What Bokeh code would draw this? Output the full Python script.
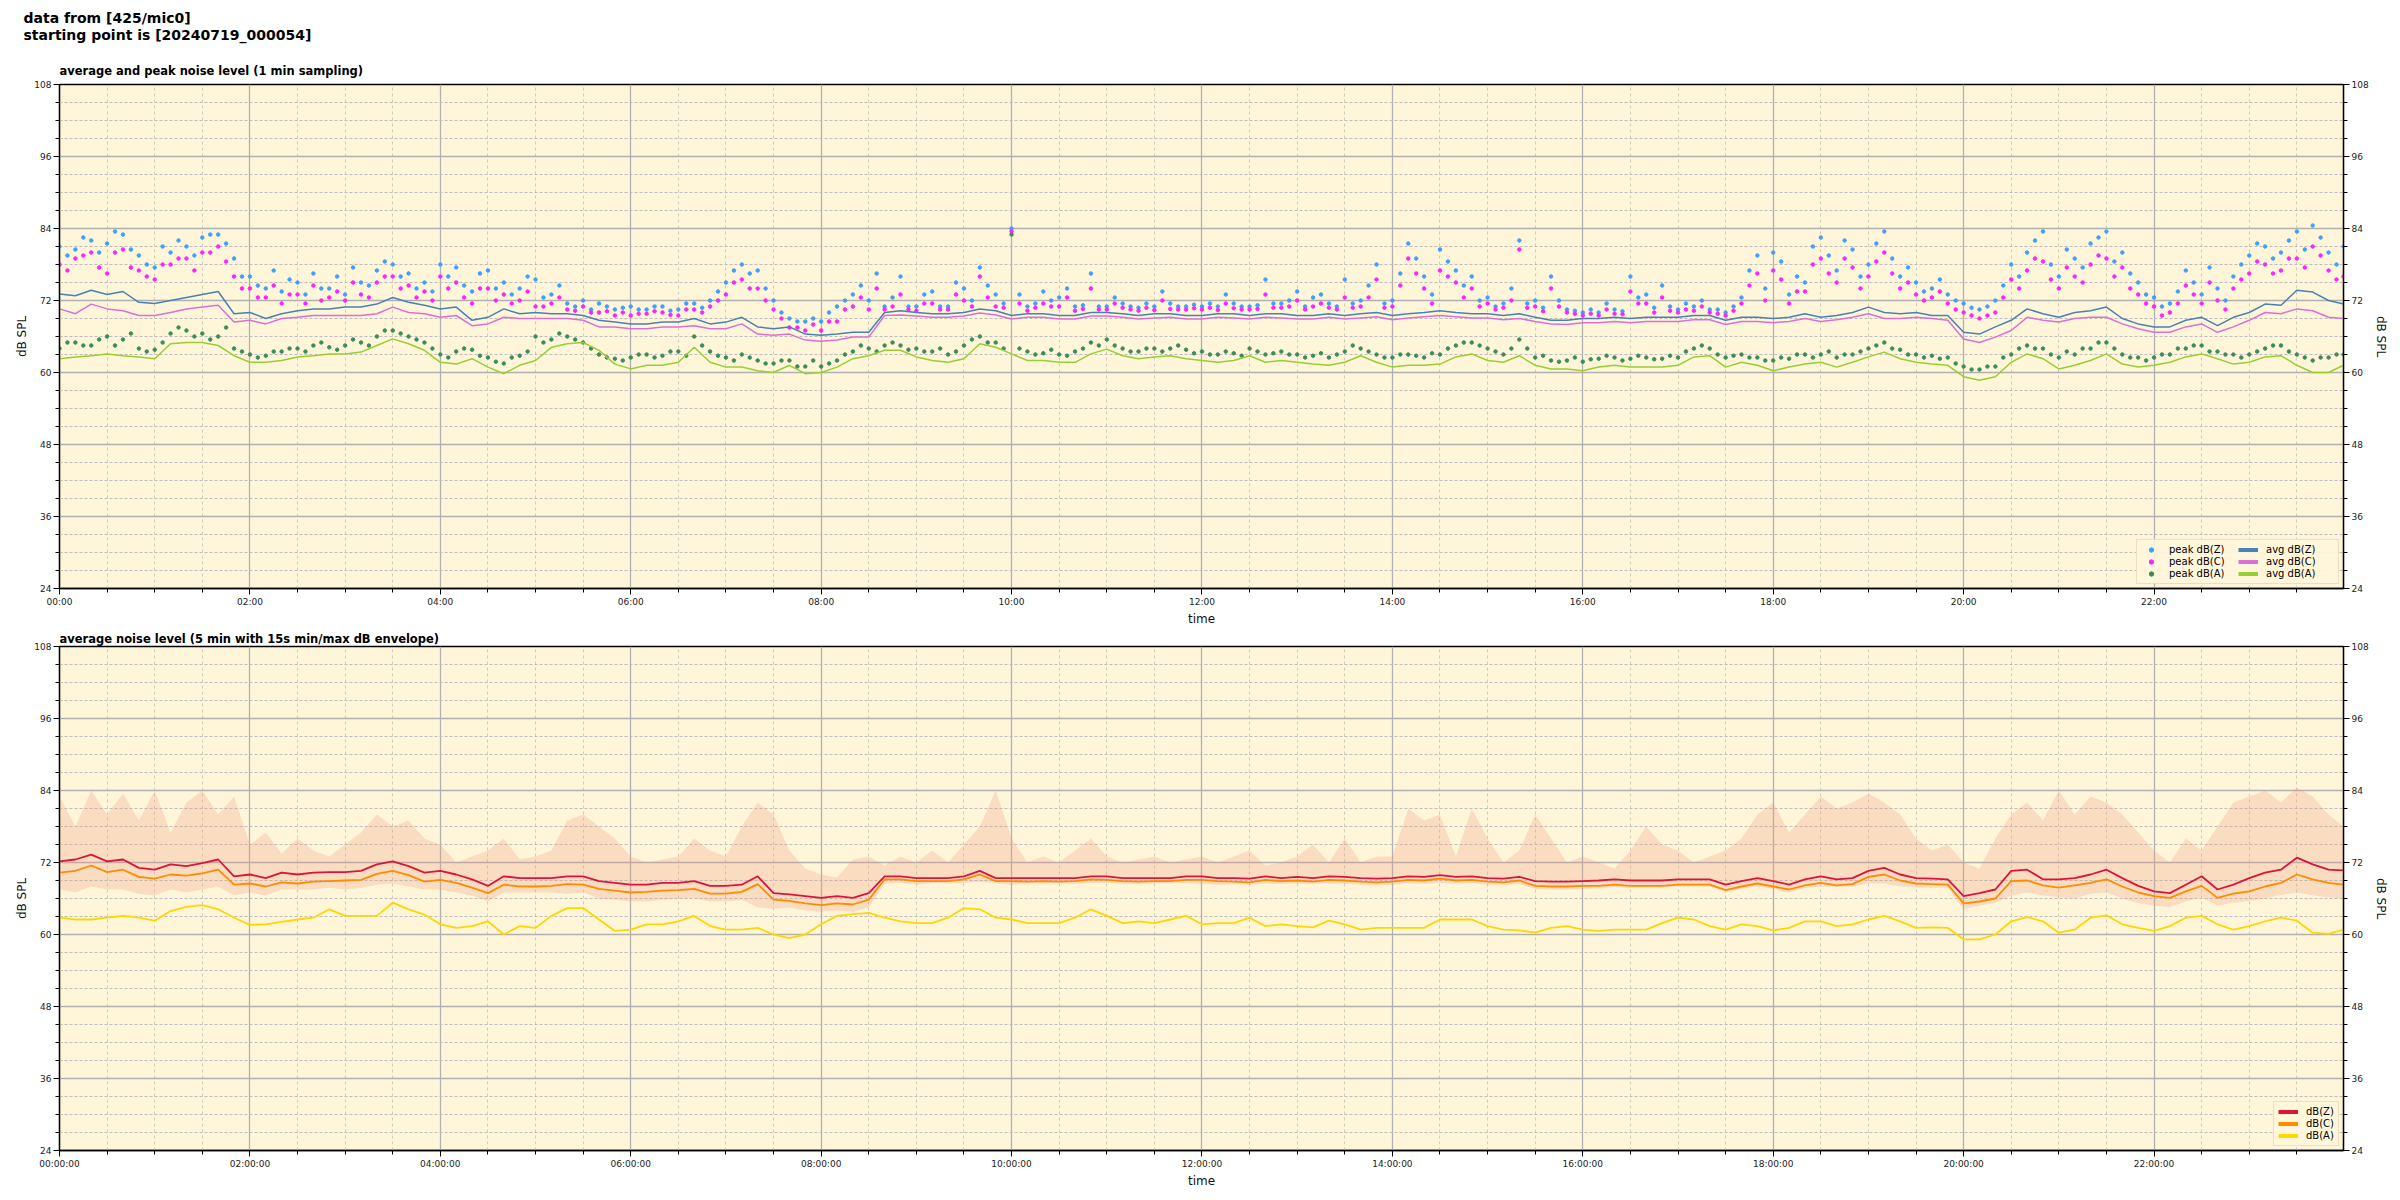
from bokeh.plotting import figure
from bokeh.models import Range1d, FixedTicker, LinearAxis, Legend, LegendItem
from bokeh.layouts import column
from bokeh.embed import file_html
from bokeh.resources import INLINE

# ---------------- data (hours since 00:00) ----------------
T = [i / 6 for i in range(144)] + [23.99]          # 10-minute readings
TB = [i / 6 + 1 / 12 for i in range(144)]          # peak readings at the :05 offsets

AVG_Z = [73.1, 72.8, 73.7, 73.0, 73.5, 71.7, 71.5, 72.0, 72.5, 73.0, 73.5, 69.8,
         70.0, 69.0, 69.8, 70.3, 70.6, 70.6, 70.9, 70.9, 71.4, 72.5, 71.7, 71.2,
         70.6, 70.9, 68.7, 69.2, 70.6, 69.8, 70.0, 69.8, 69.8, 69.5, 68.7, 68.4,
         68.1, 68.1, 68.4, 68.4, 69.0, 68.1, 68.4, 69.2, 67.6, 67.3, 67.6, 66.4,
         66.2, 66.4, 66.7, 66.7, 70.0, 70.3, 70.0, 69.8, 69.8, 70.0, 70.6, 70.3,
         69.5, 69.8, 69.8, 69.5, 69.5, 70.0, 70.0, 69.8, 69.5, 69.8, 69.8, 69.5,
         69.5, 69.8, 69.8, 69.5, 69.8, 69.8, 69.5, 69.5, 69.8, 69.5, 69.8, 70.0,
         69.5, 69.8, 70.0, 70.3, 70.0, 69.8, 69.8, 69.5, 69.8, 69.2, 68.7, 68.7,
         69.0, 69.0, 69.2, 69.0, 69.2, 69.2, 69.2, 69.5, 69.5, 68.7, 69.2, 69.2,
         69.0, 69.2, 69.8, 69.2, 69.5, 70.0, 70.9, 70.0, 69.8, 70.0, 69.5, 69.5,
         66.7, 66.4, 67.6, 68.7, 70.6, 69.8, 69.2, 70.0, 70.3, 70.9, 69.0, 68.1,
         67.6, 67.6, 68.7, 69.2, 67.8, 69.2, 70.0, 71.4, 71.2, 73.7, 73.4, 72.0,
         71.4]
AVG_C = [70.6, 69.8, 71.4, 70.6, 70.3, 69.5, 69.5, 70.0, 70.6, 70.9, 71.2, 68.4,
         68.7, 68.1, 69.0, 69.2, 69.5, 69.5, 69.5, 69.5, 69.8, 70.9, 70.0, 69.8,
         69.2, 69.5, 67.8, 68.1, 69.2, 69.0, 69.0, 69.0, 69.0, 68.7, 67.6, 67.6,
         67.3, 67.3, 67.6, 67.6, 67.8, 67.3, 67.3, 68.1, 66.4, 66.2, 66.4, 65.4,
         65.2, 65.4, 65.9, 65.9, 69.5, 69.6, 69.4, 69.2, 69.2, 69.4, 69.9, 69.6,
         68.9, 69.2, 69.2, 68.9, 68.9, 69.4, 69.4, 69.2, 68.9, 69.1, 69.2, 68.9,
         68.9, 69.2, 69.1, 68.9, 69.2, 69.1, 68.9, 68.9, 69.2, 68.9, 69.1, 69.3,
         68.8, 69.1, 69.3, 69.5, 69.3, 69.1, 69.1, 68.8, 69.0, 68.5, 68.1, 68.0,
         68.3, 68.3, 68.5, 68.3, 68.5, 68.5, 68.5, 68.8, 68.8, 68.0, 68.5, 68.5,
         68.3, 68.5, 69.0, 68.5, 68.8, 69.2, 69.8, 69.0, 69.0, 69.2, 69.0, 68.7,
         65.6, 65.0, 65.9, 67.0, 69.2, 68.7, 68.4, 69.0, 69.2, 69.2, 68.1, 67.3,
         66.7, 66.7, 67.6, 68.1, 66.7, 67.6, 68.7, 70.0, 69.8, 70.6, 70.3, 69.2,
         69.0]
AVG_A = [62.3, 62.6, 62.8, 63.1, 62.8, 62.6, 62.3, 64.8, 65.0, 65.0, 64.5, 62.8,
         61.7, 61.7, 62.0, 62.6, 62.8, 63.1, 63.1, 63.4, 64.5, 65.6, 64.8, 63.7,
         61.7, 61.4, 62.3, 60.9, 59.8, 61.2, 62.0, 64.2, 64.8, 65.0, 63.7, 61.4,
         60.6, 61.2, 61.2, 61.7, 64.2, 61.7, 60.9, 60.9, 60.3, 60.0, 61.2, 59.8,
         60.0, 60.9, 62.3, 62.8, 63.7, 63.7, 62.6, 62.0, 61.7, 62.3, 64.8, 64.2,
         63.1, 62.0, 62.0, 61.7, 61.7, 63.1, 63.9, 62.8, 62.3, 62.6, 62.8, 62.3,
         62.0, 61.7, 62.0, 62.8, 61.7, 62.0, 61.7, 61.4, 61.2, 61.7, 62.8, 61.7,
         60.9, 61.2, 61.2, 61.4, 62.6, 63.1, 62.0, 61.7, 62.8, 61.2, 60.6, 60.6,
         60.3, 60.9, 61.2, 60.9, 60.9, 60.9, 61.2, 62.6, 62.8, 60.9, 61.7, 61.2,
         60.3, 60.9, 61.4, 61.7, 60.9, 61.7, 62.6, 63.4, 62.3, 61.7, 61.4, 61.2,
         59.3, 58.7, 59.3, 61.7, 63.1, 62.3, 60.6, 61.2, 62.0, 63.1, 61.4, 60.9,
         61.2, 61.7, 62.6, 63.1, 62.3, 61.4, 61.7, 62.6, 62.8, 61.2, 60.0, 60.0,
         61.2]
PEAK_Z = [81, 80.5, 82, 81.5, 83, 79.5, 77.5, 80, 81, 82.5, 83, 79,
          76, 74, 73.5, 75, 76.5, 74, 73, 75, 77, 78, 76.5, 75,
          78, 77.5, 73.5, 77, 75, 74, 75.5, 73, 71.5, 72, 71.5, 70.5,
          71, 70.5, 71, 70.5, 71.5, 72, 75, 78, 77, 72, 69, 68.5,
          68.5, 71, 73, 72, 71, 76, 71, 73.5, 71, 74, 77.5, 73,
          84, 71, 73.5, 72.5, 71, 76.5, 71, 71.5, 70.8, 71, 71.5, 71,
          71, 71, 71.5, 71, 75.5, 71.5, 73.5, 72.5, 71.5, 75.5, 72, 78,
          72, 81.5, 76, 80.5, 77, 76, 72.5, 71.5, 82, 72, 76, 70.5,
          70, 70, 70.5, 76, 73, 74.5, 70.5, 71, 70.5, 70, 72.5, 79.5,
          80, 73, 75, 82.5, 77, 80.5, 78, 83.5, 76, 75, 74, 73,
          71.5, 70.5, 72, 78, 80, 83.5, 76, 79, 81.5, 83.5, 80, 75,
          72.5, 71.5, 77, 73, 74, 76, 79.5, 81, 80, 83.5, 84.5, 80,
          81]
PEAK_C = [78, 79, 80, 76.5, 80.5, 77, 75.5, 78, 79, 80, 81, 76,
          74, 72.5, 71.5, 73, 74.5, 72.5, 72, 73, 75, 76, 74.5, 73.5,
          76, 75, 71.5, 74, 73, 72, 71, 71.5, 70.5, 71, 70, 69.5,
          69.5, 69.8, 70, 69.5, 70.5, 71, 73, 75.5, 74, 70.5, 67.5, 67,
          67, 68.5, 71, 70.5, 70.5, 73, 70.3, 71.5, 70.5, 72, 76, 71,
          83.5, 70.3, 71.5, 71, 70.3, 74, 70.5, 70.8, 70.3, 70.4, 70.6, 70.5,
          70.5, 70.4, 70.7, 70.5, 73, 70.8, 72, 71, 70.8, 72.5, 71, 75.5,
          71, 79, 74, 77, 75, 74, 71.5, 70.8, 80.5, 71, 74, 70,
          69.5, 69.5, 69.8, 73.5, 71.5, 72.5, 70, 70.3, 70, 69.5, 71.5, 76.5,
          77, 71.5, 73.5, 79, 75, 77.5, 76, 80, 74, 73, 72.5, 71.5,
          70, 69, 70, 75.5, 77, 78.5, 74, 76, 78, 79, 77.5, 73,
          71, 70, 74.5, 71.5, 72, 74, 76.5, 78, 77, 79, 81, 77,
          76]
PEAK_A = [64, 65, 64.5, 66, 65.5, 64, 63.8, 66.5, 67, 66.5, 66, 64,
          63, 62.8, 63.5, 64, 64.5, 64.2, 64.5, 65, 66, 67, 66, 65,
          63, 63.5, 63.8, 62.5, 61.5, 62.8, 66, 65.5, 66, 65, 63, 62.3,
          62.5, 63, 62.8, 63.5, 66, 63.5, 62.5, 63, 62, 61.5, 62, 61,
          61, 62, 63.5, 64, 64.5, 64.5, 64, 63.5, 63, 64.5, 66, 65,
          83, 63.5, 63.2, 63, 63.5, 65, 65.5, 64, 63.5, 64, 64, 63.8,
          63.5, 63, 63.2, 64, 63, 63.5, 63, 62.8, 62.5, 63.5, 64, 63,
          62.5, 63, 62.5, 63, 64.5, 65, 64, 63, 65.5, 62.5, 62, 62,
          61.8, 62.3, 62.5, 62.3, 62.5, 62.3, 62.5, 64, 64, 62.5, 63, 62.5,
          62, 62.3, 63, 63, 62.5, 63, 64, 65, 63.8, 63, 62.8, 62.5,
          61, 60.5, 61, 63, 64.5, 64, 62.5, 63, 64, 65, 63, 62.5,
          62.5, 63, 64, 64.5, 63.5, 63, 63, 64, 64.5, 63, 62, 62.5,
          63]
PEAK_Z_B = [79.5, 82.5, 80, 83.5, 80.5, 78, 81, 82, 79.5, 83, 81.5, 76,
            74.5, 77, 75.5, 73, 74, 76, 77.5, 74.5, 78.5, 76, 74, 73.5,
            76, 74.5, 76.5, 74, 73, 76, 72.5, 74.5, 71, 70.5, 71, 70.8,
            70.5, 71, 70.3, 71.5, 70.8, 73.5, 77, 76.5, 74, 70, 68.5, 69,
            70, 72, 74.5, 76.5, 72.5, 71, 73, 71, 75, 72, 74.5, 71.5,
            73, 71.5, 72, 74, 71.2, 71, 72.5, 71, 71.5, 73.5, 71, 71.3,
            71.5, 73, 71, 71.2, 71.5, 72, 71, 73, 71, 71.5, 74.5, 71.5,
            76.5, 79, 73, 78.5, 74.5, 72, 71, 74, 71.5, 70.8, 72, 70.3,
            70.5, 71.5, 70.2, 72.5, 70.8, 71, 71.5, 72, 70.5, 71, 77, 74,
            78.5, 76, 81, 79.5, 82, 76, 81.5, 79, 77.5, 73.5, 75.5, 72,
            70.8, 71, 74.5, 76, 82, 78, 80.5, 77.5, 82.5, 78.5, 76.5, 73,
            71, 73.5, 75, 77.5, 72, 78, 81.5, 79, 82, 80.5, 82.5, 78]
PEAK_C_B = [77, 79.5, 77.5, 80, 77.5, 76, 78, 79, 77, 80, 78.5, 74,
            72.5, 74.5, 73, 71.5, 72, 73.5, 75, 72.5, 76, 74, 72.5, 72,
            74, 72.5, 74, 72, 71.5, 73.5, 71, 72.5, 70.3, 70, 70.2, 70,
            69.8, 70.2, 69.6, 70.5, 70, 72, 75, 74, 72, 69, 67.5, 68,
            68.5, 70.5, 72.5, 74, 71, 70.5, 71.5, 70.5, 73, 71, 72.5, 70.8,
            71.5, 70.8, 71, 72.5, 70.6, 70.5, 71.5, 70.5, 70.8, 72, 70.5, 70.7,
            70.8, 71.5, 70.5, 70.6, 70.8, 71, 70.5, 71.5, 70.5, 70.8, 72.5, 70.8,
            74.5, 76.5, 71.5, 76, 72.5, 71, 70.5, 72, 70.8, 70.2, 71, 69.8,
            69.8, 70.5, 69.7, 71.5, 70, 70.3, 70.5, 71, 69.8, 70.3, 74.5, 72,
            75.5, 73.5, 78, 76.5, 79, 74, 78.5, 76.5, 75, 72, 73.5, 70.5,
            69.5, 69.5, 72.5, 74, 79, 75.5, 77.5, 75, 79.5, 76, 74, 71.5,
            69.5, 71.5, 73, 75, 70.5, 75.5, 78.5, 76.5, 79, 77.5, 79.5, 75.5]
PEAK_A_B = [65, 64.5, 65.5, 64.5, 66.5, 63.5, 65, 67.5, 66, 65.5, 67.5, 63.5,
            62.5, 63.5, 64, 63.5, 65, 63.8, 65.5, 64.5, 67, 66.5, 65.5, 64,
            62.5, 64, 62.8, 61.8, 62.5, 63.5, 65, 66.5, 65.5, 64, 62.5, 62,
            63, 62.5, 63.5, 62.8, 64.5, 62.8, 62, 62.5, 61.5, 62, 61, 62,
            61.5, 63, 64.5, 63.5, 65, 63.8, 63.5, 64, 63.5, 65.5, 65, 64,
            64, 63, 63.8, 62.8, 64, 64.5, 64.5, 63.5, 64, 63.5, 64.5, 63.2,
            63, 63.5, 62.8, 63.5, 63.2, 63, 62.5, 63.2, 63, 64.5, 63.5, 62.5,
            63, 62.8, 63.2, 64, 65, 64.5, 63.5, 64, 64, 62.8, 61.8, 62.5,
            62.2, 62.8, 62, 62.8, 62.2, 62.8, 63.5, 64.5, 63, 62.8, 62.5, 62,
            62.5, 63, 62.5, 63.5, 63, 63.5, 64.5, 64, 63, 62.5, 62.3, 61.5,
            60.5, 61, 62.5, 64, 64, 63, 63.5, 64, 65, 64, 62.5, 62,
            63, 64, 64.5, 63.5, 63, 62.5, 63.5, 64.5, 63.5, 62.5, 62.5, 63]

DB_Z = [72.2, 72.5, 73.3, 72.2, 72.5, 71.1, 70.8, 71.7, 71.4, 71.9, 72.5, 69.7,
        70.0, 69.4, 70.3, 70.0, 70.3, 70.4, 70.4, 70.6, 71.7, 72.2, 71.4, 70.3,
        70.6, 70.0, 69.2, 68.1, 69.7, 69.4, 69.4, 69.4, 69.7, 69.7, 68.9, 68.6,
        68.3, 68.3, 68.6, 68.6, 68.9, 68.1, 68.1, 68.3, 69.7, 66.9, 66.7, 66.4,
        66.1, 66.4, 66.1, 66.9, 69.7, 69.7, 69.4, 69.4, 69.4, 69.7, 70.6, 69.4,
        69.4, 69.4, 69.4, 69.4, 69.4, 69.7, 69.7, 69.4, 69.4, 69.4, 69.4, 69.7,
        69.7, 69.4, 69.4, 69.3, 69.7, 69.4, 69.6, 69.4, 69.7, 69.6, 69.4, 69.3,
        69.4, 69.7, 69.6, 69.9, 69.6, 69.7, 69.4, 69.3, 69.6, 68.9, 68.8, 68.8,
        68.9, 69.0, 69.2, 69.0, 69.0, 69.0, 69.2, 69.2, 69.2, 68.3, 68.9, 69.4,
        68.9, 68.3, 69.2, 69.7, 69.2, 69.4, 70.6, 71.1, 70.0, 69.4, 69.3, 69.2,
        66.4, 66.9, 67.5, 70.6, 70.8, 69.2, 69.2, 69.4, 70.0, 70.8, 69.4, 68.1,
        67.2, 66.9, 68.3, 69.7, 67.5, 68.3, 69.4, 70.3, 70.8, 72.8, 71.7, 70.8,
        70.7]
DB_C = [70.3, 70.6, 71.5, 70.4, 70.8, 69.6, 69.3, 70.0, 69.8, 70.2, 70.8, 68.3,
        68.5, 68.0, 68.7, 68.5, 68.8, 68.9, 69.0, 69.1, 70.1, 70.6, 69.9, 68.8,
        69.1, 68.6, 67.8, 66.9, 68.3, 68.0, 68.0, 68.1, 68.4, 68.3, 67.6, 67.3,
        67.0, 67.1, 67.3, 67.4, 67.6, 66.8, 66.8, 67.1, 68.4, 65.8, 65.6, 65.2,
        64.9, 65.2, 65.0, 65.8, 69.2, 69.2, 68.9, 68.9, 68.9, 69.2, 70.0, 68.9,
        68.9, 68.8, 68.9, 68.8, 68.9, 69.2, 69.1, 68.9, 68.8, 68.9, 68.9, 69.1,
        69.1, 68.9, 68.8, 68.7, 69.1, 68.9, 69.0, 68.8, 69.1, 69.0, 68.8, 68.7,
        68.8, 69.1, 69.0, 69.3, 69.0, 69.1, 68.8, 68.7, 69.0, 68.1, 68.0, 68.0,
        68.1, 68.1, 68.3, 68.1, 68.1, 68.1, 68.3, 68.3, 68.3, 67.4, 68.0, 68.5,
        68.0, 67.5, 68.2, 68.6, 68.2, 68.4, 69.6, 70.0, 69.0, 68.5, 68.4, 68.3,
        65.2, 65.5, 66.0, 68.9, 69.0, 68.2, 67.8, 68.2, 68.6, 69.2, 68.0, 67.0,
        66.4, 66.1, 67.2, 68.1, 66.1, 66.8, 67.2, 68.0, 68.6, 70.0, 69.2, 68.6,
        68.3]
DB_A = [62.8, 62.5, 62.5, 62.8, 63.1, 62.8, 62.3, 63.9, 64.6, 64.9, 64.2, 62.8,
        61.6, 61.7, 62.1, 62.5, 62.8, 64.2, 63.1, 63.1, 63.1, 65.3, 64.2, 63.3,
        61.7, 61.1, 61.4, 62.2, 60.0, 61.4, 61.1, 63.1, 64.4, 64.4, 62.5, 60.6,
        60.8, 61.7, 61.7, 62.2, 63.1, 61.4, 60.8, 60.8, 61.1, 60.0, 59.4, 60.0,
        61.7, 63.1, 63.4, 63.6, 62.8, 62.2, 61.9, 61.9, 62.8, 64.4, 64.2, 62.8,
        62.5, 61.9, 61.9, 61.9, 62.8, 64.2, 63.1, 61.9, 62.2, 61.9, 62.5, 63.1,
        61.7, 61.9, 61.9, 62.8, 61.4, 61.7, 61.4, 61.2, 62.3, 61.7, 60.8, 61.1,
        61.1, 61.1, 61.1, 62.5, 62.5, 62.5, 61.4, 60.8, 60.7, 60.3, 61.1, 61.4,
        60.8, 60.6, 60.8, 60.8, 60.8, 61.9, 62.8, 62.5, 61.4, 60.8, 61.7, 61.4,
        60.7, 61.1, 62.2, 62.2, 61.4, 61.7, 62.5, 63.1, 62.2, 61.1, 61.2, 61.1,
        59.2, 59.2, 60.0, 62.2, 62.9, 62.2, 60.3, 60.8, 62.8, 63.2, 61.7, 61.1,
        60.6, 61.4, 62.8, 63.1, 61.7, 60.8, 61.4, 62.2, 62.8, 62.3, 60.3, 60.1,
        60.8]
ENV_MAX = [83, 78, 84, 80, 83.5, 79, 84, 77, 82, 84, 80, 83,
           75, 77, 73.5, 76, 74, 73, 75, 77, 80, 78, 79, 76,
           75, 72, 73, 74, 76, 72.5, 73, 74, 79, 80, 78, 76,
           73, 72, 72.5, 73, 76, 74, 73, 78, 82, 80, 74, 71,
           70, 69.5, 72.5, 73, 71.5, 73, 72, 74, 72, 75, 78, 84,
           76, 72, 73, 72, 74, 76, 73, 72, 72.5, 73, 72, 72.5,
           73, 72, 73, 74, 71.5, 72, 73, 75, 72, 76, 72, 73,
           73, 81, 79, 80, 73, 81, 76, 72, 74, 80, 76, 72,
           73, 72, 71, 74, 78, 75, 74, 72, 73, 74, 76, 80,
           82, 77, 80, 83, 81, 82, 83.5, 82, 80, 76, 74, 75,
           72, 71, 76, 80, 82, 79, 84, 80, 83, 82, 80, 77,
           74, 72, 76, 74, 78, 82, 83, 84, 82, 84.5, 83, 80,
           78]
ENV_MIN = [67.5, 67, 68, 67.5, 67.5, 66.8, 66.5, 67.5, 67, 67.5, 68, 66.5,
           67, 66.5, 67.5, 67.5, 67.5, 67.8, 67.5, 67.8, 68.3, 68.5, 68, 67.5,
           67.5, 67, 66.5, 65.5, 67, 67, 67, 67, 66.8, 67, 66, 65.8,
           65.5, 65.5, 65.8, 66, 66, 65.5, 65.5, 65.8, 64.5, 64.3, 64.5, 64,
           63.8, 64, 63.8, 64.5, 68.5, 68.6, 68.3, 68.5, 68.5, 68.6, 68.8, 68.5,
           68.3, 68.5, 68.5, 68.5, 68.4, 68.6, 68.6, 68.4, 68.4, 68.5, 68.5, 68.6,
           68.4, 68.3, 68.4, 68.3, 68.5, 68.4, 68.5, 68.4, 68.5, 68.4, 68.3, 68.2,
           68.3, 68.5, 68.4, 68.6, 68.5, 68.5, 68.3, 68.3, 68.4, 67.6, 67.5, 67.5,
           67.6, 67.7, 67.9, 67.8, 67.8, 67.8, 68, 68, 68, 67.2, 67.6, 68,
           67.6, 67, 67.8, 68, 67.9, 68, 68.5, 68.5, 68, 67.8, 67.8, 67.8,
           64.2, 64.8, 65.3, 66.5, 67, 66.5, 66.2, 66, 66.8, 67, 66, 65.2,
           64.8, 64.6, 65.5, 66.2, 64.8, 65.3, 65.6, 66, 66.6, 67, 66.5, 66.2,
           66]

X_MAJOR = [0, 2, 4, 6, 8, 10, 12, 14, 16, 18, 20, 22]
X_MINOR = [h / 2 for h in range(48)]
X_LABELS_TOP = ["00:00", "02:00", "04:00", "06:00", "08:00", "10:00",
                "12:00", "14:00", "16:00", "18:00", "20:00", "22:00"]
X_LABELS_BOT = [s + ":00" for s in X_LABELS_TOP]
Y_MAJOR = [24, 36, 48, 60, 72, 84, 96, 108]
Y_MINOR = list(range(24, 109, 3))
SUPTITLE = "data from [425/mic0]\nstarting point is [20240719_000054]"

FONT = "DejaVu Sans"
BG = "#fff6da"
NAN = float("nan")
W = 2392


def style_axis(ax, ticker, overrides=None):
    ax.ticker = ticker
    if overrides:
        ax.major_label_overrides = overrides
    ax.axis_line_color = "black"
    ax.axis_line_width = 1.3
    ax.major_tick_in = 0
    ax.major_tick_out = 6
    ax.minor_tick_in = 0
    ax.minor_tick_out = 4
    ax.major_tick_line_color = "black"
    ax.minor_tick_line_color = "black"
    ax.major_label_text_font = FONT
    ax.major_label_text_font_size = "9px"
    ax.major_label_text_color = "#222222"
    ax.major_label_standoff = 2
    ax.axis_label_text_font = FONT
    ax.axis_label_text_font_size = "12px"
    ax.axis_label_text_font_style = "normal"
    ax.axis_label_text_color = "#111111"
    ax.axis_label_standoff = 2


def make_fig(height, top, bottom, xlabels, title, title_standoff):
    p = figure(width=W, height=height, output_backend="svg", toolbar_location=None,
               x_range=Range1d(0, 23.99), y_range=Range1d(24, 108),
               min_border_left=59, min_border_right=49,
               min_border_top=top, min_border_bottom=bottom,
               background_fill_color=BG, border_fill_color="white",
               x_axis_label="time", y_axis_label="dB SPL", title=title)
    p.title.align = "left"
    p.title.text_font = FONT
    p.title.text_font_size = "11.5px"
    p.title.text_font_style = "bold"
    p.title.text_color = "black"
    p.title.standoff = title_standoff
    xt = FixedTicker(ticks=X_MAJOR, minor_ticks=X_MINOR)
    yt = FixedTicker(ticks=Y_MAJOR, minor_ticks=Y_MINOR)
    style_axis(p.xaxis[0], xt, {m: l for m, l in zip(X_MAJOR, xlabels)})
    style_axis(p.yaxis[0], yt)
    ry = LinearAxis(axis_label="dB SPL")
    style_axis(ry, yt)
    ry.axis_label_orientation = "vertical"
    p.add_layout(ry, "right")
    p.outline_line_color = "black"
    p.outline_line_width = 1.3
    p.outline_line_alpha = 1
    p.xgrid.ticker = xt
    p.ygrid.ticker = yt
    p.xgrid.grid_line_color = "#b0b0b0"
    p.xgrid.grid_line_width = 1.3
    p.ygrid.grid_line_color = "#b0b0b0"
    p.ygrid.grid_line_width = 1.6
    p.xgrid.minor_grid_line_color = "#d2cbb8"
    p.xgrid.minor_grid_line_dash = "3 3"
    p.xgrid.minor_grid_line_width = 1
    p.ygrid.minor_grid_line_color = "#bcbcbc"
    p.ygrid.minor_grid_line_dash = "3 2"
    p.ygrid.minor_grid_line_width = 1
    return p


def make_legend(items, nrows=None, label_width=20):
    kw = dict(items=items, location="bottom_right", orientation="vertical",
              label_text_font=FONT, label_text_font_size="10px", label_text_color="black",
              glyph_width=20, glyph_height=11, label_height=11, label_width=label_width,
              spacing=1, padding=4, margin=4, label_standoff=8,
              background_fill_color=BG, background_fill_alpha=0.9,
              border_line_color="#dcc8a0", border_line_width=1.5)
    if nrows:
        kw["nrows"] = nrows
    return Legend(**kw)


# ---------------- header strip carrying the figure-level title ----------------
HEAD_H = 44
p0 = figure(width=W, height=HEAD_H, output_backend="svg", toolbar_location=None,
            x_range=Range1d(0, 1), y_range=Range1d(0, 1),
            x_axis_location=None, y_axis_location=None,
            min_border_left=59, min_border_right=49, min_border_top=HEAD_H - 1, min_border_bottom=0,
            outline_line_color=None, background_fill_color="white", border_fill_color="white",
            title=SUPTITLE)
p0.xgrid.visible = False
p0.ygrid.visible = False
p0.title.align = "left"
p0.title.offset = -36
p0.title.standoff = 0
p0.title.text_font = FONT
p0.title.text_font_size = "14px"
p0.title.text_font_style = "bold"
p0.title.text_color = "black"
p0.title.text_line_height = 1.09

# ---------------- top panel ----------------
p1 = make_fig(584, 84 - HEAD_H, 36, X_LABELS_TOP,
              "average and peak noise level (1 min sampling)", 13)

C_PZ, C_PC, C_PA = "#3f9fff", "#ff22ff", "#3c8c5a"
C_AZ, C_AC, C_AA = "#4682b4", "#da70d6", "#9acd32"

for tt, ys, c in ((T, PEAK_Z, C_PZ), (TB, PEAK_Z_B, C_PZ), (T, PEAK_C, C_PC),
                  (TB, PEAK_C_B, C_PC), (T, PEAK_A, C_PA), (TB, PEAK_A_B, C_PA)):
    p1.scatter(tt, ys, size=3.5, color=c)
p1.line(T, AVG_Z, line_width=1.5, color=C_AZ)
p1.line(T, AVG_C, line_width=1.5, color=C_AC)
p1.line(T, AVG_A, line_width=1.5, color=C_AA)

# legend-only proxies (NaN data, never drawn in the frame)
lp = [p1.scatter([NAN], [NAN], size=6, color=c) for c in (C_PZ, C_PC, C_PA)]
ll = [p1.line([NAN, NAN], [NAN, NAN], line_width=4, color=c) for c in (C_AZ, C_AC, C_AA)]
items1 = [LegendItem(label=l, renderers=[r]) for l, r in zip(
    ["peak dB(Z)", "peak dB(C)", "peak dB(A)", "avg dB(Z)", "avg dB(C)", "avg dB(A)"], lp + ll)]
p1.add_layout(make_legend(items1, 3, 68), "center")

# ---------------- bottom panel ----------------
p2 = make_fig(562, 18, 40, X_LABELS_BOT, "average noise level (5 min with 15s min/max dB envelope)", 2)
C_Z, C_C, C_A = "#dc143c", "#ff8c00", "#ffd700"
p2.varea(x=T, y1=ENV_MIN, y2=ENV_MAX, fill_color="#ee9a80", fill_alpha=0.28)
p2.line(T, DB_Z, line_width=1.8, color=C_Z)
p2.line(T, DB_C, line_width=1.8, color=C_C)
p2.line(T, DB_A, line_width=1.8, color=C_A)
l2 = [p2.line([NAN, NAN], [NAN, NAN], line_width=4, color=c) for c in (C_Z, C_C, C_A)]
items2 = [LegendItem(label=l, renderers=[r]) for l, r in zip(["dB(Z)", "dB(C)", "dB(A)"], l2)]
p2.add_layout(make_legend(items2), "center")

layout = column(p0, p1, p2, spacing=0)
open("out.html", "w").write(file_html(layout, INLINE))
